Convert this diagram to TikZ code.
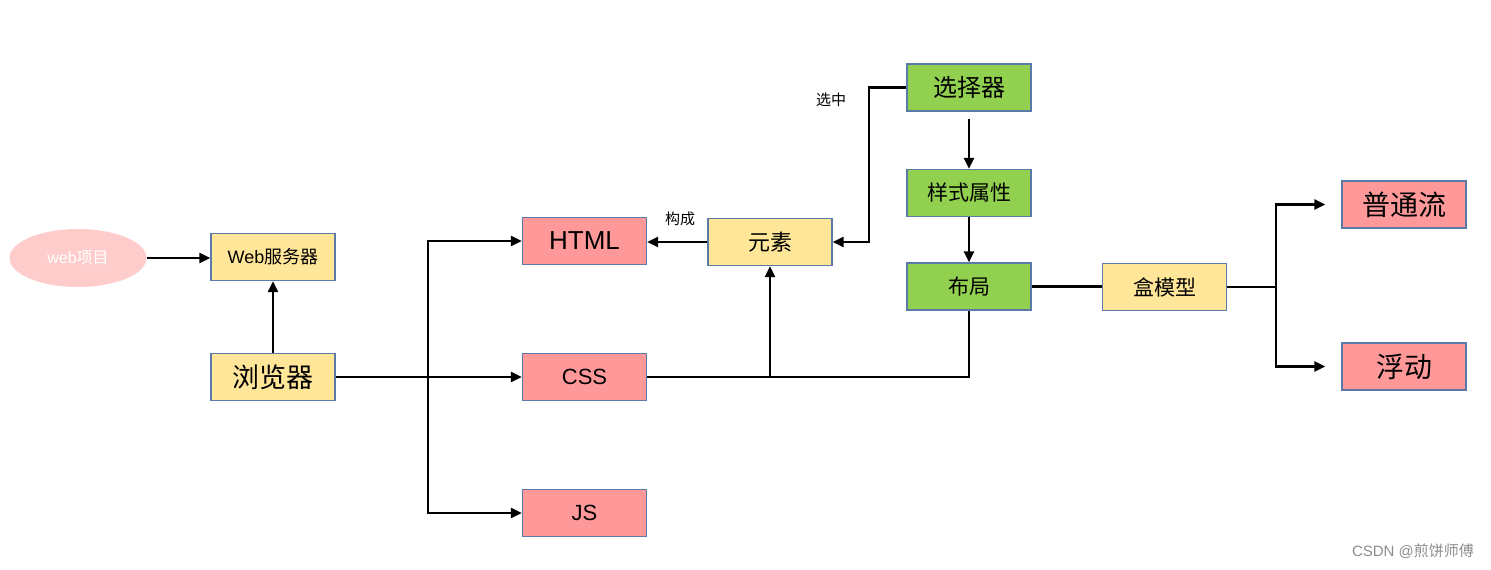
\documentclass[tikz,border=0pt]{standalone}
\usepackage{fontspec}
\setmainfont{Liberation Sans}
\newfontfamily\cjk{Noto Sans CJK SC}
\usepackage{tikz}
\usetikzlibrary{shapes.geometric,arrows.meta,calc,positioning}
\definecolor{boxline}{RGB}{92,122,168}
\definecolor{pinkbox}{RGB}{255,153,153}
\definecolor{yellowbox}{RGB}{255,230,153}
\definecolor{greenbox}{RGB}{146,208,80}
\definecolor{ovalpink}{RGB}{255,204,204}
\newcommand{\fs}[1]{\fontsize{#1}{#1}\selectfont}

\begin{document}
\begin{tikzpicture}[x=1pt, y=-1pt]
	\tikzstyle{box} = [draw = boxline, line width = 1.3pt, minimum width = 124pt, minimum height = 47pt, inner sep = 0pt]
	\tikzstyle{yel} = [box, fill = yellowbox]
	\tikzstyle{red} = [box, fill = pinkbox]
	\tikzstyle{grn} = [box, fill = greenbox]
	\tikzstyle{wire} = [draw = black, line width = 2.5pt]
	\tikzstyle{arr} = [wire, -{Triangle[length = 11pt, width = 10pt]}]
\useasboundingbox (0, 0) rectangle (1491, 570);
\node[ellipse, fill = ovalpink, minimum width = 137pt, minimum height = 58pt, text = white] (web) at (78, 258) {\fs{16}web{\cjk 项目}};
\node[yel] (server) at (273, 257) {\fs{18}Web{\cjk 服务器}};
\node[yel] (browser) at (273, 377) {\fs{27}\cjk 浏览器};
\node[red] (html) at (584.5, 241) {\fs{26}HTML};
\node[red] (css) at (584.5, 377) {\fs{22}CSS};
\node[red] (js) at (584.5, 513) {\fs{22}JS};
\node[yel] (elem) at (770, 242) {\fs{22}\cjk 元素};
\node[grn] (sel) at (969, 87.5) {\fs{24}\cjk 选择器};
\node[grn] (style) at (969, 193) {\fs{21}\cjk 样式属性};
\node[grn] (layout) at (969, 286.5) {\fs{21}\cjk 布局};
\node[yel] (boxm) at (1164.5, 287) {\fs{21}\cjk 盒模型};
\node[red] (flow) at (1404, 204.5) {\fs{28}\cjk 普通流};
\node[red] (float) at (1404, 366.5) {\fs{28}\cjk 浮动};
\node (make) at (680, 219) {\fs{15}\cjk 构成};
\node (pick) at (831, 100) {\fs{15}\cjk 选中};
\node[text = black!45] (mark) at (1413, 551) {\fs{15}CSDN @{\cjk 煎饼师傅}};
\coordinate (fork) at (428, 377);
\coordinate (bend) at (869, 0);
\coordinate (split) at (1276, 287);
	\path[arr] (web.east) -- (web.east -| server.west);
	\path[arr] (browser.north) -- (server.south);
	\path[wire] (browser.east) -- (fork);
	\path[arr] (fork) |- (html.west);
	\path[arr] (fork) -- (css.west);
	\path[arr] (fork) |- (js.west);
	\path[arr] (elem.west) -- (elem.west -| html.east);
	\path[arr] (sel.west) -- (sel.west -| bend) |- (elem.east);
	\path[arr] ([yshift = -7pt]sel.south) -- (style.north);
	\path[arr] (style.south) -- (layout.north);
	\path[wire] (css.east) -| (layout.south);
	\path[arr] (css.east -| elem) -- (elem.south);
	\path[wire] (layout.east) -- (layout.east -| boxm.west);
	\path[wire] (boxm.east) -- (split);
	\path[arr] (split) |- ([xshift = -16pt]flow.west);
	\path[arr] (split) |- ([xshift = -16pt]float.west);
\end{tikzpicture}
\end{document}
